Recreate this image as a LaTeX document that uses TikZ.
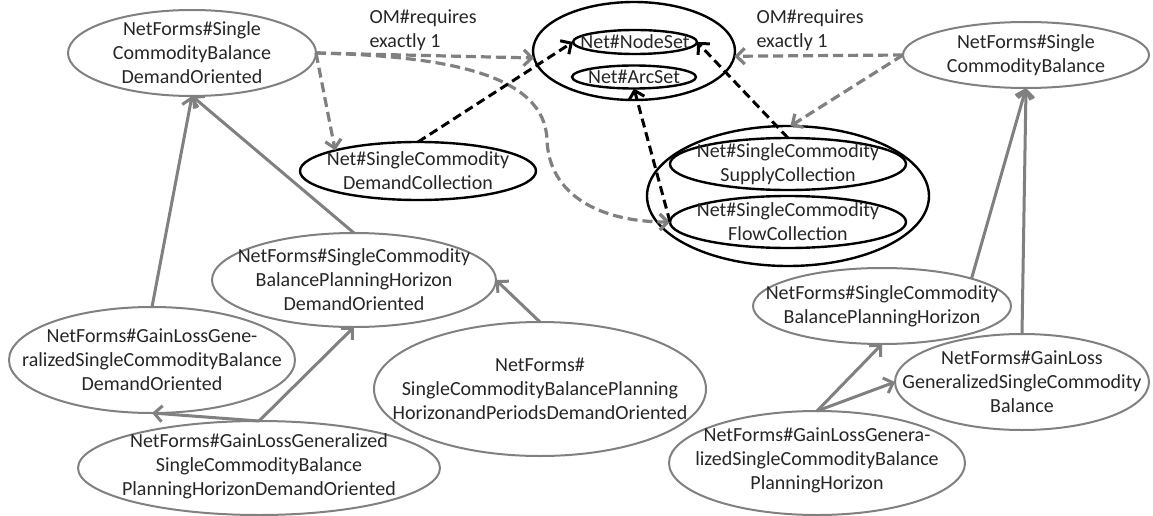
\documentclass[tikz,border=0pt]{standalone}
\usepackage{fontspec}
\setmainfont{Carlito}
\usetikzlibrary{shapes.geometric,arrows.meta}
\definecolor{edgegray}{RGB}{128,128,128}
\definecolor{txt}{RGB}{38,38,38}
\begin{document}
\begin{tikzpicture}[x=1pt,y=-1pt,
  every node/.style={font=\fontsize{20}{24}\selectfont, text=txt, align=center},
  form/.style={ellipse, draw=edgegray, line width=2pt, inner sep=0pt, outer sep=0pt},
  netset/.style={ellipse, draw=black, line width=2.4pt, inner sep=0pt, outer sep=0pt},
  caption/.style={inner sep=0pt},
  tip/.style={-{Straight Barb[length=8pt,width=16pt]}},
  graydash/.style={tip, draw=edgegray, line width=3.2pt, dash pattern=on 10pt off 5pt},
  blackdash/.style={tip, draw=black, line width=3pt, dash pattern=on 9pt off 5pt},
  grayarrow/.style={tip, draw=edgegray, line width=3pt}
]
\useasboundingbox (0,0) rectangle (1153,516);

% ontology forms (gray outlines; captions set separately so the outline keeps its size)
\node[form, minimum width=248pt, minimum height=86pt] (A) at (192,53) {};
\node[caption] (A-t) at (A.center) {NetForms\#Single\\CommodityBalance\\DemandOriented};
\node[form, minimum width=246pt, minimum height=66pt] (rtop) at (1026,55) {};
\node[caption] (rtop-t) at (rtop.center) {NetForms\#Single\\CommodityBalance};
\node[form, minimum width=284pt, minimum height=94pt] (n6) at (354,280) {};
\node[caption] (n6-t) at (n6.center) {NetForms\#SingleCommodity\\BalancePlanningHorizon\\DemandOriented};
\node[form, minimum width=286pt, minimum height=106pt] (n7) at (152,360) {};
\node[caption] (n7-t) at (n7.center) {NetForms\#GainLossGene-\\ralizedSingleCommodityBalance\\DemandOriented};
\node[form, minimum width=362pt, minimum height=94pt] (n8) at (259,468) {};
\node[caption] (n8-t) at ([yshift=2pt]n8.center) {NetForms\#GainLossGeneralized\\SingleCommodityBalance\\PlanningHorizonDemandOriented};
\node[form, minimum width=332pt, minimum height=134pt] (n9) at (540,389) {};
\node[caption] (n9-t) at (n9.center) {NetForms\#\\SingleCommodityBalancePlanning\\HorizonandPeriodsDemandOriented};
\node[form, minimum width=258pt, minimum height=76pt] (n10) at (882,306) {};
\node[caption] (n10-t) at (n10.center) {NetForms\#SingleCommodity\\BalancePlanningHorizon};
\node[form, minimum width=254pt, minimum height=96pt] (n11) at (1022,382) {};
\node[caption] (n11-t) at (n11.center) {NetForms\#GainLoss\\GeneralizedSingleCommodity\\Balance};
\node[form, minimum width=296pt, minimum height=104pt] (n12) at (817,463) {};
\node[caption] (n12-t) at ([yshift=3pt]n12.center) {NetForms\#GainLossGenera-\\lizedSingleCommodityBalance\\PlanningHorizon};

% network sets (black outlines)
\node[netset, minimum width=202pt, minimum height=98pt] (setgrp) at (634,51) {};
\node[netset, minimum width=124pt, minimum height=24pt] (nodeset) at (635,42) {};
\node[caption] (nodeset-t) at (nodeset.center) {Net\#NodeSet};
\node[netset, minimum width=124pt, minimum height=23pt] (arcset) at (634,77) {};
\node[caption] (arcset-t) at (arcset.center) {Net\#ArcSet};
\node[netset, minimum width=236pt, minimum height=58pt] (demcoll) at (418,171) {};
\node[caption] (demcoll-t) at (demcoll.center) {Net\#SingleCommodity\\DemandCollection};
\node[netset, minimum width=282pt, minimum height=140pt] (collgrp) at (788,196) {};
\node[netset, minimum width=236pt, minimum height=52pt] (supply) at (788,164) {};
\node[caption] (supply-t) at (supply.center) {Net\#SingleCommodity\\SupplyCollection};
\node[netset, minimum width=236pt, minimum height=52pt] (flow) at (788,222) {};
\node[caption] (flow-t) at (flow.center) {Net\#SingleCommodity\\FlowCollection};

% cardinality labels
\node[anchor=west, align=left] (reqL) at (366,30) {OM\#requires\\exactly 1};
\node[anchor=west, align=left] (reqR) at (753,30) {OM\#requires\\exactly 1};

% requirement links (gray dashed)
\coordinate (bend) at (547,140);
\draw[graydash] (A.east) -- (setgrp.184);
\draw[graydash] (A.east) -- (demcoll.166);
\draw[graydash] (A.east) .. controls +(133,3) and +(-2,-65) .. (bend)
  .. controls +(2,55) and +(-70,0) .. (flow.west);
\draw[graydash] (rtop.west) -- (setgrp.-3);
\draw[graydash] (rtop.west) -- (collgrp.88);

% collection-to-set links (black dashed)
\draw[blackdash] (demcoll.north) -- (nodeset.west);
\draw[blackdash] (supply.north) -- (nodeset.east);
\draw[blackdash] (flow.west) -- (arcset.south);

% specialisation links (gray solid)
\draw[grayarrow] (n7.north) -- (A.south);
\draw[grayarrow] (n6.north) -- (A.south);
\draw[grayarrow] (n8.north) -- (n7.south);
\draw[grayarrow] (n8.north) -- (n6.south);
\draw[grayarrow] (n9.north) -- (n6.east);
\draw[grayarrow] (n10.17) -- (rtop.south);
\draw[grayarrow] (n11.north) -- (rtop.south);
\draw[grayarrow] (n12.north) -- (n10.south);
\draw[grayarrow] (n12.north) -- (n11.west);
\end{tikzpicture}
\end{document}
